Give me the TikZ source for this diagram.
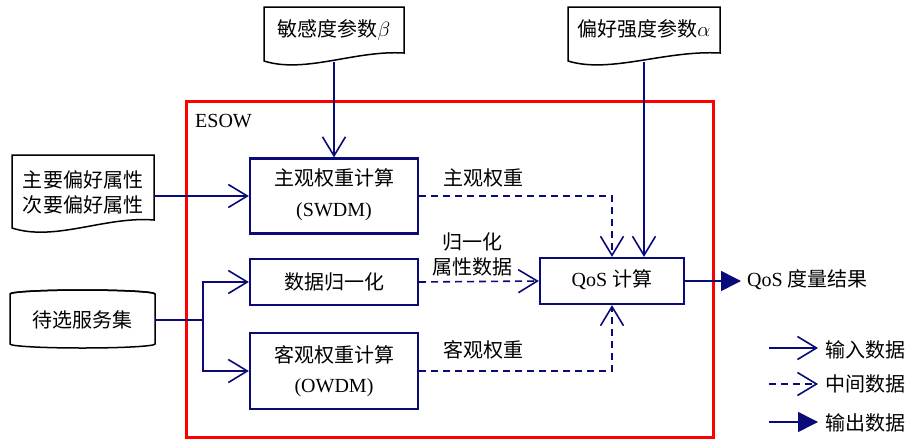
\documentclass[tikz,border=0pt]{standalone}
\usepackage{fontspec}
\setmainfont{Liberation Serif}
\newfontfamily\cjk{Noto Sans CJK SC}
\usetikzlibrary{arrows.meta,shapes.geometric}
\definecolor{navy}{RGB}{10,10,120}
\tikzset{
  lbl/.style={font=\fontsize{20}{25}\selectfont,align=center,inner sep=0pt},
  box/.style={lbl,draw=navy,line width=2.3pt,minimum width=168pt},
  inarrow/.style={draw=navy,line width=1.6pt,-{Straight Barb[length=19pt,width=23pt,line width=1.6pt]}},
  midarrow/.style={inarrow,dash pattern=on 7pt off 5pt},
  outarrow/.style={draw=navy,line width=1.6pt,-{Triangle[length=20pt,width=20pt]}},
  doc/.style={draw=black,line width=1.5pt,fill=white},
}
\begin{document}
\begin{tikzpicture}[x=1pt,y=-1pt]
\useasboundingbox (0,0) rectangle (907,439);
% red frame
\draw[red,line width=3pt] (186,101) rectangle (713,437);
\node[lbl,anchor=west] (esow) at (195,121) {ESOW};
% documents
\draw[doc] (264,7) -- (404,7) -- (404,53) .. controls (355,50) and (305,74) .. (264,61) -- cycle;
\node[lbl] (beta) at (334,30) {\cjk 敏感度参数$\beta$};
\coordinate (betab) at (334,62);
\draw[doc] (568,7) -- (720,7) -- (720,53) .. controls (665,50) and (610,74) .. (568,61) -- cycle;
\node[lbl] (alpha) at (644,29) {\cjk 偏好强度参数$\alpha$};
\coordinate (alphab) at (644,62);
\draw[doc] (12,155) -- (154,155) -- (154,220) .. controls (105,216) and (55,242) .. (12,228) -- cycle;
\node[lbl] (pref) at (83,192) {\cjk 主要偏好属性\\[0pt]\cjk 次要偏好属性};
\coordinate (prefr) at (154,196);
% cylinder
\draw[doc] (10,294) -- (10,344) arc[start angle=180,end angle=360,x radius=72.5pt,y radius=4pt]
  -- (155,294) arc[start angle=0,end angle=180,x radius=72.5pt,y radius=4pt] -- cycle;
\draw[black,line width=1.5pt] (10,294) arc[start angle=180,end angle=360,x radius=72.5pt,y radius=-4pt];
\node[lbl] (cand) at (82,320) {\cjk 待选服务集};
\coordinate (candr) at (155,320);
% boxes
\node[box,minimum height=75pt] (swdm) at (334,196) {};
\node[lbl] at (334,178) {\cjk 主观权重计算};
\node[lbl] at (334,212) {(SWDM)};
\node[box,minimum height=46pt] (norm) at (334,282) {\cjk 数据归一化};
\node[box,minimum height=76pt] (owdm) at (334,371) {};
\node[lbl] at (334,355) {\cjk 客观权重计算};
\node[lbl] at (334,388) {(OWDM)};
\node[box,minimum width=144pt,minimum height=46pt] (qos) at (612,281) {};
\node[lbl] at (612,280) {QoS {\cjk 计算}};
% inputs
\draw[inarrow] (betab) -- (swdm.north);
\draw[inarrow] (prefr) -- (swdm.west);
\coordinate (split) at (203,320);
\draw[navy,line width=1.6pt] (candr) -- (split);
\draw[inarrow] (split) |- (norm.west);
\draw[inarrow] (split) |- (owdm.west);
\draw[inarrow] (alphab) -- (qos.north -| alphab);
% intermediate
\draw[midarrow] (swdm.east) -| (qos.north);
\draw[midarrow] (norm.east) -- (qos.west);
\draw[midarrow] (owdm.east) -| (qos.south);
\node[lbl] (l1) at (483,178) {\cjk 主观权重};
\node[lbl] (l2) at (472,254) {\cjk 归一化\\[0pt]\cjk 属性数据};
\node[lbl] (l3) at (483,350) {\cjk 客观权重};
% output
\coordinate (outend) at (741,281);
\draw[outarrow] (qos.east) -- (outend);
\node[lbl,anchor=west] (res) at (747,280) {QoS {\cjk 度量结果}};
% legend
\coordinate (a1) at (769,348); \coordinate (b1) at (818,348);
\coordinate (a2) at (769,384); \coordinate (b2) at (818,384);
\coordinate (a3) at (769,422); \coordinate (b3) at (818,422);
\draw[inarrow] (a1) -- (b1);
\draw[midarrow] (a2) -- (b2);
\draw[outarrow] (a3) -- (b3);
\node[lbl,anchor=west] (g1) at (825,350) {\cjk 输入数据};
\node[lbl,anchor=west] (g2) at (825,384) {\cjk 中间数据};
\node[lbl,anchor=west] (g3) at (825,423) {\cjk 输出数据};
\end{tikzpicture}
\end{document}
